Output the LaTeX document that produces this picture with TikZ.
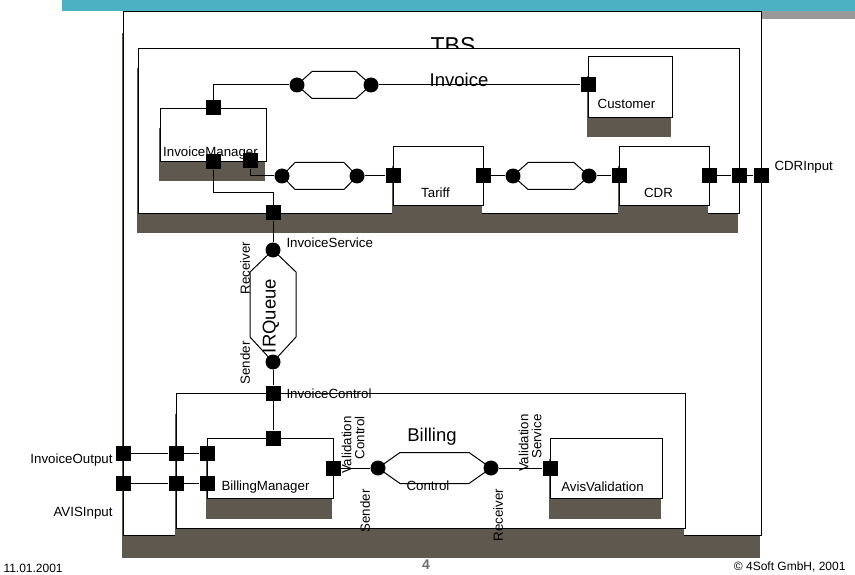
\documentclass[tikz,border=0pt]{standalone}
\usepackage{fontspec}
\setmainfont{Liberation Sans}
\usetikzlibrary{shadows}
\definecolor{shadowc}{RGB}{95,88,78}
\definecolor{barteal}{RGB}{75,178,196}
\definecolor{bargray}{RGB}{153,153,153}
\definecolor{footgray}{RGB}{110,110,110}
% hexagon between two plugs: #1,#2 plug names, #3 slant, #4 half height
\newcommand{\hexlink}[4]{%
  \draw (#1.center) -- ([shift={(#3,-#4)}]#1.center) -- ([shift={(-#3,-#4)}]#2.center)
    -- (#2.center) -- ([shift={(-#3,#4)}]#2.center) -- ([shift={(#3,#4)}]#1.center) -- cycle;}

\begin{document}
\begin{tikzpicture}[x=1pt,y=-1pt,line width=1pt,
  comp/.style={draw, fill=white, anchor=north west, inner sep=0pt,
    drop shadow={shadow xshift=-1.5pt, shadow yshift=-#1, fill=shadowc, opacity=1}},
  comp/.default=20pt,
  port/.style={fill=black, minimum size=15pt, inner sep=0pt},
  plug/.style={circle, fill=black, minimum size=15pt, inner sep=0pt},
  lbl/.style={font=\fontsize{13.3}{13}\selectfont, inner sep=0pt},
  big/.style={font=\fontsize{18.5}{21}\selectfont, inner sep=0pt},
  foot/.style={font=\fontsize{12}{14}\selectfont, inner sep=0pt}]
\useasboundingbox (0,0) rectangle (855,575);
\fill[barteal] (62,0) rectangle (855,11);
\fill[bargray] (762,11) rectangle (855,19);

% TBS
\node[comp=22pt, minimum width=638pt, minimum height=524pt] (tbs) at (123,11) {};
\node[big, anchor=base, font=\fontsize{23}{26}\selectfont] (tbslbl) at (453,54) {TBS};

% Invoice
\node[comp, minimum width=601pt, minimum height=165pt] (inv) at (138,48) {};
\node[big, anchor=base] (invlbl) at (459,87) {Invoice};
\node[comp, minimum width=106pt, minimum height=53pt] (im) at (160,108) {};
\node[comp, minimum width=84pt, minimum height=61pt] (cust) at (588,56) {};
\node[comp, minimum width=90pt, minimum height=59pt] (tar) at (393,146) {};
\node[comp, minimum width=90pt, minimum height=59pt] (cdr) at (619,146) {};
\node[lbl] (imlbl) at ([xshift=-3pt,yshift=9pt]im.south) {InvoiceManager};
\node[lbl] (custlbl) at ([xshift=-4pt,yshift=14pt]cust.south) {Customer};
\node[lbl] (tarlbl) at ([xshift=-3pt,yshift=13pt]tar.south) {Tariff};
\node[lbl] (cdrlbl) at ([xshift=-6pt,yshift=13pt]cdr.south) {CDR};

% Billing
\node[comp, minimum width=509pt, minimum height=135pt] (bil) at (176,393) {};
\node[big, anchor=base] (billbl) at (432,441) {Billing};
\node[comp, minimum width=126pt, minimum height=60pt] (bm) at (207,438) {};
\node[comp, minimum width=112pt, minimum height=60pt] (av) at (550,438) {};
\node[lbl] (bmlbl) at ([xshift=-5pt,yshift=12pt]bm.south) {BillingManager};
\node[lbl] (avlbl) at ([xshift=-4pt,yshift=12pt]av.south) {AvisValidation};

% ports
\node[port] (imT) at (im.north) {};
\node[port] (imB1) at (im.south) {};
\node[port] (imB2) at (250,161) {};
\node[port] (custL) at (588,85) {};
\node[port] (tarL) at (393,176) {};
\node[port] (tarR) at (483,176) {};
\node[port] (cdrL) at (619,176) {};
\node[port] (cdrR) at (709,176) {};
\node[port] (invR) at (739,176) {};
\node[port] (tbsR) at (761,176) {};
\node[port] (invB) at (273,213) {};
\node[port] (bilT) at (273,393) {};
\node[port] (bmT) at (273,438) {};
\node[port] (bmR) at (333,468) {};
\node[port] (avL) at (550,468) {};
\node[port] (bmL1) at (207,453) {};
\node[port] (bmL2) at (207,483) {};
\node[port] (bilL1) at (176,453) {};
\node[port] (bilL2) at (176,483) {};
\node[port] (tbsL1) at (123,453) {};
\node[port] (tbsL2) at (123,483) {};

% plugs
\node[plug] (q1a) at (297,85) {};
\node[plug] (q1b) at (371,85) {};
\node[plug] (q2a) at (282,176) {};
\node[plug] (q2b) at (357,176) {};
\node[plug] (q3a) at (513,176) {};
\node[plug] (q3b) at (589,176) {};
\node[plug] (qa) at (273,250) {};
\node[plug] (qb) at (273,362) {};
\node[plug] (ca) at (378,468) {};
\node[plug] (cb) at (491,468) {};

% connectors
\hexlink{q1a}{q1b}{15}{13.5}
\hexlink{q2a}{q2b}{13}{13.5}
\hexlink{q3a}{q3b}{15}{13.5}
\hexlink{ca}{cb}{22}{15.5}
\draw (qa.center) -- ([shift={(23,22)}]qa.center) -- ([shift={(23,-25)}]qb.center) -- (qb.center)
  -- ([shift={(-23,-25)}]qb.center) -- ([shift={(-23,22)}]qa.center) -- cycle;
\draw (imT) |- (q1a);
\draw (q1b) -- (custL);
\draw (imB2) |- (q2a);
\draw (q2b) -- (tarL);
\draw (tarR) -- (q3a);
\draw (q3b) -- (cdrL);
\draw (cdrR) -- (invR) -- (tbsR);
\draw (imB1) -- ++(0,31) -| (invB);
\draw (invB) -- (qa);
\draw (qb) -- (bilT) -- (bmT);
\draw (tbsL1) -- (bilL1) -- (bmL1);
\draw (tbsL2) -- (bilL2) -- (bmL2);
\draw (bmR) -- (ca);
\draw (cb) -- (avL);

% labels
\node[lbl, anchor=west] (isvc) at (286,243) {InvoiceService};
\node[lbl, anchor=west] (ictl) at (286,394) {InvoiceControl};
\node[big, rotate=90] (irq) at (271,316) {IRQueue};
\node[lbl, rotate=90] (irqrcv) at (245,268) {Receiver};
\node[lbl, rotate=90] (irqsnd) at (245,363) {Sender};
\node[lbl, rotate=90, anchor=east, align=right] (vctl) at (353,416) {Validation\\Control};
\node[lbl, rotate=90, anchor=east, align=right] (vsvc) at (530,414) {Validation\\Service};
\node[lbl, anchor=base] (ctl) at (428,490) {Control};
\node[lbl, rotate=90] (ctlsnd) at (365,511) {Sender};
\node[lbl, rotate=90] (ctlrcv) at (498,515) {Receiver};
\node[lbl, anchor=east] (iout) at (113,460) {InvoiceOutput};
\node[lbl, anchor=east] (avin) at (113,513) {AVISInput};
\node[lbl, anchor=west] (cdrin) at (774,167) {CDRInput};

% footer
\node[foot, anchor=west] (date) at (3,568) {11.01.2001};
\node[foot, anchor=east] (copy) at (846,567) {\textcopyright{} 4Soft GmbH, 2001};
\node[font=\bfseries\fontsize{14}{16}\selectfont, text=footgray, inner sep=0pt] (pnum) at (426,565) {4};
\end{tikzpicture}
\end{document}
